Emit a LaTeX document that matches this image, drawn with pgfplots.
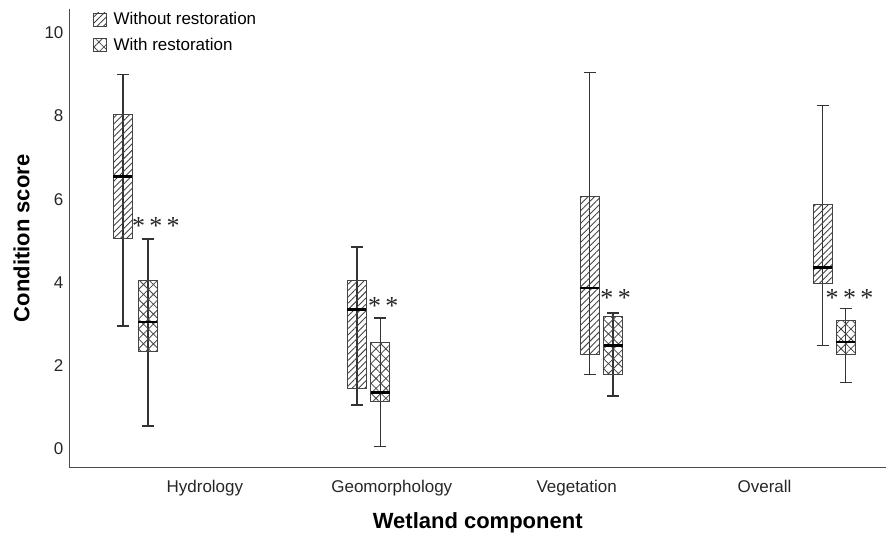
\documentclass[border=0pt]{standalone}
\usepackage{fontspec}
\setmainfont{Liberation Sans}
\newfontfamily\starfont{Liberation Serif}
\usepackage{pgfplots}
\pgfplotsset{compat=1.18}
\usepgfplotslibrary{statistics}
\usetikzlibrary{patterns.meta}
\definecolor{edge}{HTML}{444444}
\definecolor{whisk}{HTML}{333333}
\definecolor{hatch}{HTML}{444444}

\pgfplotsset{
  without/.style={draw=edge, line width=0.8pt,
    pattern={Lines[angle=45,distance=4.5pt,line width=0.9pt]}, pattern color=hatch},
  with/.style={draw=edge, line width=0.8pt,
    pattern={Hatch[angle=45,distance=7pt,line width=0.8pt]}, pattern color=hatch},
  stem/.style={draw=whisk, line width=1.5pt, forget plot},
  boxplot/draw direction=y,
  boxplot/every median/.style={draw=black, line width=2.4pt},
  boxplot/every whisker/.style={draw=whisk, line width=1.5pt},
  boxplot/box extend=0.19,
  boxplot/whisker extend=0.12,
}

\begin{document}
\begin{tikzpicture}
\begin{axis}[
  scale only axis, width=816pt, height=459pt,
  xmin=0.70, xmax=8.86, ymin=-0.457, ymax=10.577,
  axis x line=bottom, axis y line=left,
  axis line style={draw=gray!60!black, line width=1pt, -},
  xtick={2.05,3.92,5.77,7.65},
  xticklabels={Hydrology,Geomorphology,Vegetation,Overall},
  ytick={0,2,4,6,8,10},
  major tick length=0pt,
  tick label style={font=\fontsize{17}{19}\selectfont, text=black!85},
  /pgf/number format/assume math mode=true,
  xticklabel style={yshift=-9pt},
  yticklabel style={xshift=-3pt},
  xlabel={Wetland component}, ylabel={Condition score},
  label style={font=\fontsize{22}{25}\selectfont\bfseries},
  xlabel style={yshift=-10pt},
  ylabel style={yshift=8pt},
  clip=false,
  legend style={at={(axis description cs:0.028,0.995)}, anchor=north west, draw=none, fill=none,
    font=\fontsize{17}{19}\selectfont, row sep=10pt, inner sep=0pt,
    nodes={inner sep=1pt}},
  legend cell align=left,
  legend image code/.code={\draw[#1, line width=0.6pt] (0pt,-6.5pt) rectangle (13pt,6.5pt);},
]
\addlegendimage{without}
\addlegendentry{\hspace{6pt}Without restoration}
\addlegendimage{with}
\addlegendentry{\hspace{6pt}With restoration}

% full whisker lines (visible through the hatched boxes)
\addplot[stem] coordinates {(1.23,2.95) (1.23,9.0)};
\addplot[stem] coordinates {(1.48,0.55) (1.48,5.05)};
\addplot[stem] coordinates {(3.57,1.05) (3.57,4.85)};
\addplot[stem] coordinates {(3.805,0.05) (3.805,3.15)};
\addplot[stem] coordinates {(5.90,1.78) (5.90,9.05)};
\addplot[stem] coordinates {(6.135,1.27) (6.135,3.27)};
\addplot[stem] coordinates {(8.23,2.48) (8.23,8.25)};
\addplot[stem] coordinates {(8.46,1.59) (8.46,3.37)};

% Hydrology
\addplot[without, forget plot, boxplot prepared={draw position=1.23,
  lower whisker=2.95, lower quartile=5.05, median=6.55, upper quartile=8.05, upper whisker=9.0}] coordinates {};
\addplot[with, forget plot, boxplot prepared={draw position=1.48,
  lower whisker=0.55, lower quartile=2.35, median=3.05, upper quartile=4.05, upper whisker=5.05}] coordinates {};
% Geomorphology
\addplot[without, forget plot, boxplot prepared={draw position=3.57,
  lower whisker=1.05, lower quartile=1.45, median=3.35, upper quartile=4.05, upper whisker=4.85}] coordinates {};
\addplot[with, forget plot, boxplot prepared={draw position=3.805,
  lower whisker=0.05, lower quartile=1.15, median=1.35, upper quartile=2.55, upper whisker=3.15}] coordinates {};
% Vegetation
\addplot[without, forget plot, boxplot prepared={draw position=5.90,
  lower whisker=1.78, lower quartile=2.26, median=3.87, upper quartile=6.06, upper whisker=9.05}] coordinates {};
\addplot[with, forget plot, boxplot prepared={draw position=6.135,
  lower whisker=1.27, lower quartile=1.78, median=2.48, upper quartile=3.18, upper whisker=3.27}] coordinates {};
% Overall
\addplot[without, forget plot, boxplot prepared={draw position=8.23,
  lower whisker=2.48, lower quartile=3.97, median=4.36, upper quartile=5.87, upper whisker=8.25}] coordinates {};
\addplot[with, forget plot, boxplot prepared={draw position=8.46,
  lower whisker=1.59, lower quartile=2.26, median=2.57, upper quartile=3.08, upper whisker=3.37}] coordinates {};

% significance marks
\begin{scope}[every node/.style={font=\starfont\fontsize{26}{26}\selectfont, text=black!85, inner sep=0pt}]
\node at (axis cs:1.56,5.36) {*\,*\,*};
\node at (axis cs:3.835,3.43) {*\,*};
\node at (axis cs:6.16,3.62) {*\,*};
\node at (axis cs:8.50,3.62) {*\,*\,*};
\end{scope}

% page frame
\path ([xshift=-70pt,yshift=-68pt]rel axis cs:0,0) rectangle ([yshift=9pt]rel axis cs:1,1);
\end{axis}
\end{tikzpicture}
\end{document}
